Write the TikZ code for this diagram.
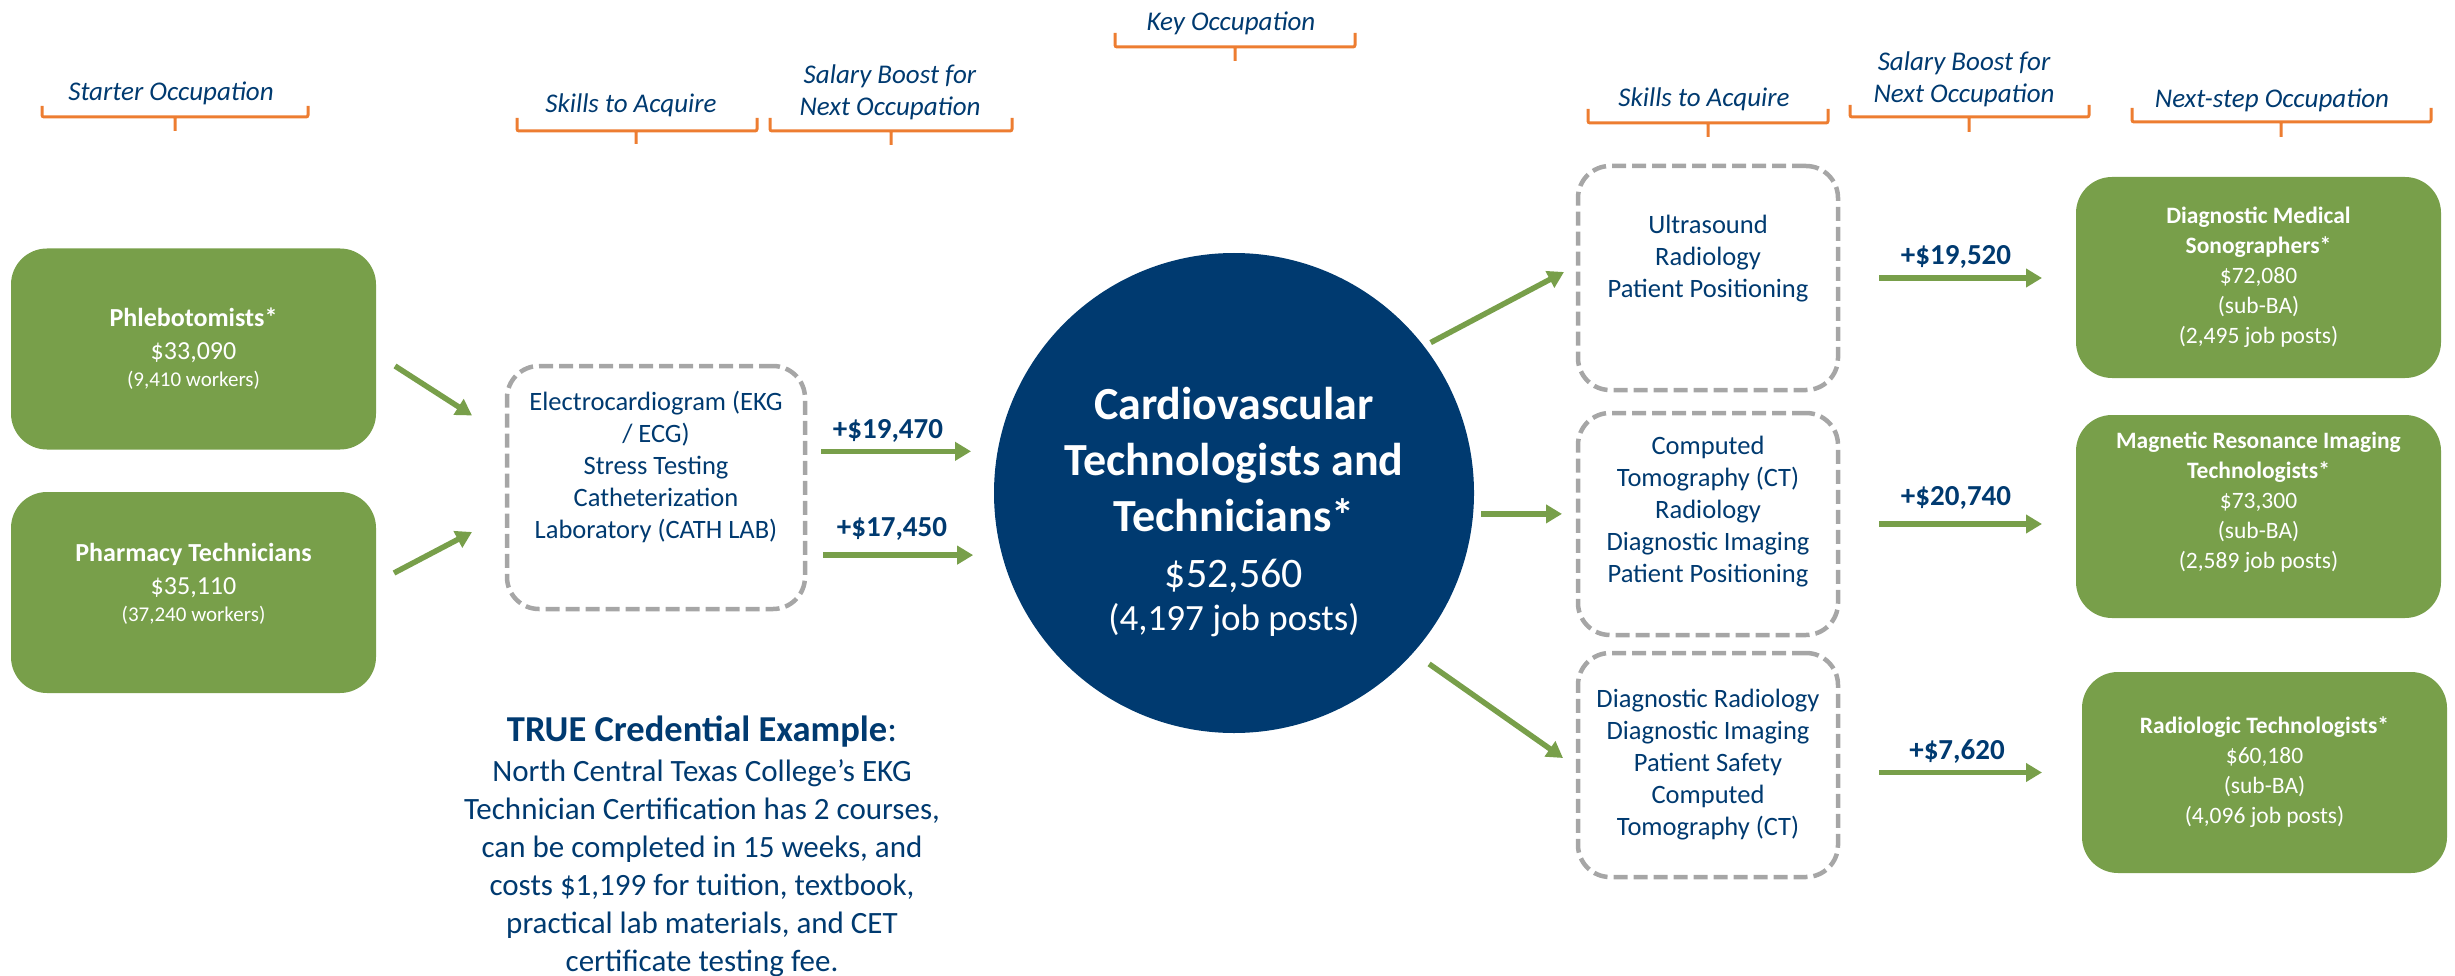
\documentclass[tikz,border=0pt]{standalone}
\usepackage{fontspec}
\setmainfont{Carlito}
\usetikzlibrary{arrows.meta,positioning}

\definecolor{navy}{RGB}{0,58,112}
\definecolor{leaf}{RGB}{120,159,74}
\definecolor{rust}{RGB}{237,125,49}
\definecolor{ash}{RGB}{166,166,166}

% zero-width struts that nudge text up or down inside a shape
\newcommand{\lift}[1]{\rule[-#1pt]{0pt}{#1pt}}
\newcommand{\sink}[1]{\rule{0pt}{#1pt}}

\begin{document}
\begin{tikzpicture}[x=1pt,y=-1pt,>={Triangle[length=16pt,width=18pt]}]
        \tikzstyle{heading}=[text=navy,font=\fontsize{27}{32}\selectfont\itshape,inner sep=0pt]
        \tikzstyle{bracket}=[draw=rust,line width=3pt,rounded corners=2pt]
        \tikzstyle{job}=[rectangle,rounded corners=36pt,fill=leaf,text=white,align=center,minimum width=365pt,minimum height=201pt,inner sep=0pt,outer sep=0pt]
        \tikzstyle{skill}=[rectangle,rounded corners=32pt,draw=ash,line width=4.5pt,dash pattern=on 14pt off 6pt,text=navy,align=center,font=\fontsize{26.5}{32}\selectfont,minimum width=260pt,minimum height=224pt,inner sep=0pt,outer sep=0pt]
        \tikzstyle{hub}=[circle,fill=navy,text=white,align=center,minimum size=480pt,inner sep=0pt,outer sep=0pt]
        \tikzstyle{boost}=[text=navy,font=\fontsize{29}{34}\selectfont\bfseries,inner sep=0pt,anchor=base]
        \tikzstyle{flow}=[->,draw=leaf,line width=5.5pt]
        \tikzstyle{note}=[text=navy,font=\fontsize{31}{38}\selectfont,align=center,inner sep=0pt]

        \useasboundingbox (0,0) rectangle (2455,976);

        % column headings
        \node [heading,anchor=base] (hStart) at (171,101) {Starter Occupation};
        \node [heading,anchor=base] (hSkillL) at (631,113) {Skills to Acquire};
        \node [heading,anchor=south,align=center] (hBoostL) at (890,120.5) {Salary Boost for\\Next Occupation};
        \node [heading,anchor=base] (hKey) at (1231,31) {Key Occupation};
        \node [heading,anchor=base] (hSkillR) at (1704,107) {Skills to Acquire};
        \node [heading,anchor=south,align=center] (hBoostR) at (1964,107.5) {Salary Boost for\\Next Occupation};
        \node [heading,anchor=base] (hNext) at (2272,108) {Next-step Occupation};

        \draw [bracket] (42,106) |- (308,117) -- (308,106) (175,117) -- (175,131);
        \draw [bracket] (517,118) |- (757,131) -- (757,118) (636,131) -- (636,144);
        \draw [bracket] (770,118) |- (1012,131) -- (1012,118) (891,131) -- (891,145);
        \draw [bracket] (1115,33) |- (1355,47) -- (1355,33) (1235,47) -- (1235,61);
        \draw [bracket] (1588,109) |- (1828,123) -- (1828,109) (1708,123) -- (1708,137);
        \draw [bracket] (1850,105) |- (2089,117) -- (2089,105) (1969,117) -- (1969,132);
        \draw [bracket] (2132,108) |- (2431,122) -- (2431,108) (2281,122) -- (2281,137);

        % starters
        \node [job,font=\fontsize{26}{33}\selectfont] (phleb) at (193.5,349) {\textbf{Phlebotomists*}\\\$33,090\\[-6pt]{\fontsize{21}{26}\selectfont(9,410 workers)}};
        \node [job,font=\fontsize{26}{33}\selectfont] (pharm) [below of=phleb,node distance=243.5pt] {\textbf{Pharmacy Technicians}\\\$35,110\\[-6pt]{\fontsize{21}{26}\selectfont(37,240 workers)\lift{20}}};

        \node [skill,minimum width=298pt,minimum height=243pt] (skill0) at (656,487.5) {Electrocardiogram (EKG\\/ ECG)\\Stress Testing\\Catheterization\\Laboratory (CATH LAB)\lift{45}};

        \draw [flow] ([shift={(19,17)}]phleb.east) -- ([shift={(-35,-72)}]skill0.west);
        \draw [flow] ([shift={(18,-19.5)}]pharm.east) -- ([shift={(-35,44.5)}]skill0.west);

        % key occupation
        \node [hub,font=\fontsize{46}{56}\selectfont] (hub) at (1234,493) {\sink{71}\textbf{Cardiovascular}\\\textbf{Technologists and}\\\textbf{Technicians*}\\{\fontsize{42}{50}\selectfont\$52,560}\\[-13pt]{\fontsize{37}{44}\selectfont(4,197 job posts)}};

        \node [boost] (boost0a) at (888,438) {+\$19,470};
        \node [boost] (boost0b) at (892,536) {+\$17,450};
        \draw [flow,shorten <=16pt,shorten >=26.6pt] (skill0.east |- hub.170) -- (hub.170);
        \draw [flow,shorten <=18pt,shorten >=29pt] (skill0.east |- hub.195) -- (hub.195);

        % next steps
        \node [skill] (skillA) at (1708,278) {Ultrasound\\Radiology\\Patient Positioning\lift{43}};
        \node [skill,minimum height=222pt] (skillB) at (1708,524) {Computed\\Tomography (CT)\\Radiology\\Diagnostic Imaging\\Patient Positioning\lift{29}};
        \node [skill] (skillC) at (1708,765) {Diagnostic Radiology\\Diagnostic Imaging\\Patient Safety\\Computed\\Tomography (CT)};

        \draw [flow] ([shift={(5,-6)}]hub.37) -- ([shift={(-14,-6)}]skillA.west);
        \draw [flow,shorten <=8pt,shorten >=16pt] (hub.-5) -- (hub.-5 -| skillB.west);
        \draw [flow] ([shift={(14,13.5)}]hub.-41) -- ([shift={(-15,-7)}]skillC.west);

        \node [job,font=\fontsize{23.5}{30}\selectfont] (jobA) at (2258.5,277.5) {\textbf{Diagnostic Medical}\\\textbf{Sonographers*}\\\$72,080\\(sub-BA)\\(2,495 job posts)};
        \node [job,font=\fontsize{23.5}{30}\selectfont,minimum height=203pt] (jobB) at (2258.5,516.5) {\textbf{Magnetic Resonance Imaging}\\\textbf{Technologists*}\\\$73,300\\(sub-BA)\\(2,589 job posts)\lift{32}};
        \node [job,font=\fontsize{23.5}{30}\selectfont] (jobC) at (2264.5,772.5) {\textbf{Radiologic Technologists*}\\\$60,180\\(sub-BA)\\(4,096 job posts)};

        \node [boost] (boostA) at (1956,265) {+\$19,520};
        \node [boost] (boostB) at (1956,505) {+\$20,740};
        \node [boost] (boostC) at (1957,759) {+\$7,620};
        \draw [flow,shorten <=41pt,shorten >=34pt] (skillA.east) -- (skillA.east -| jobA.west);
        \draw [flow,shorten <=41pt,shorten >=34pt] (skillB.east) -- (skillB.east -| jobB.west);
        \draw [flow,shorten <=41pt,shorten >=40pt] (jobC.west -| skillC.east) -- (jobC.west);

        % credential example
        \node [note,anchor=north] (cred) at (702,716) {{\fontsize{36.5}{42}\selectfont\textbf{TRUE Credential Example}:}\\[2pt]North Central Texas College’s EKG\\Technician Certification has 2 courses,\\can be completed in 15 weeks, and\\costs \$1,199 for tuition, textbook,\\practical lab materials, and CET\\certificate testing fee.};
\end{tikzpicture}
\end{document}
